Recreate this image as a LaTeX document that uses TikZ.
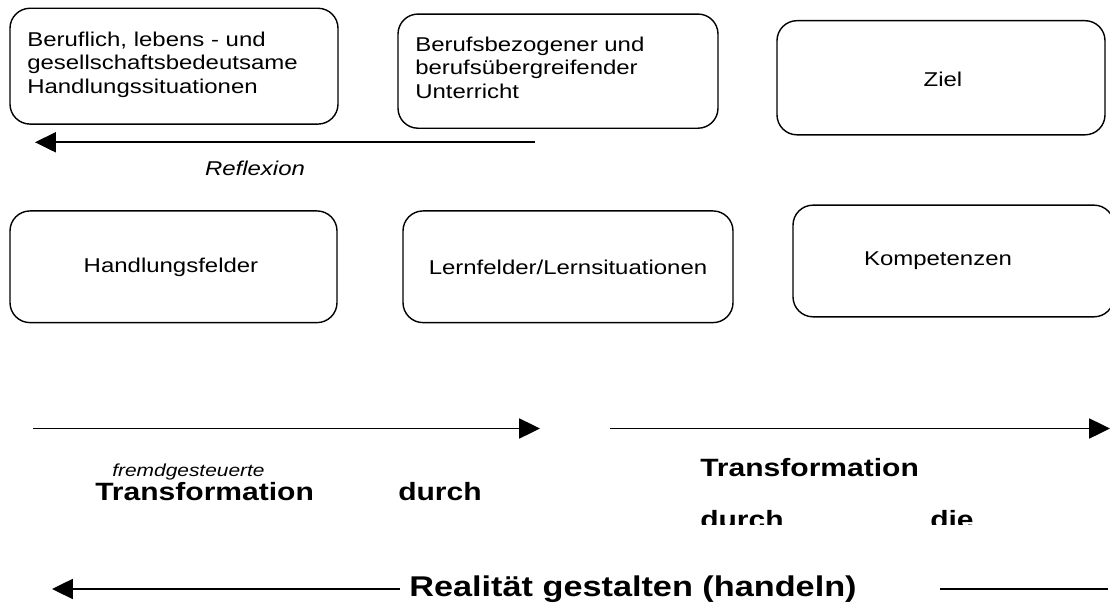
\documentclass[tikz,border=0pt]{standalone}
\usepackage{fontspec}
\setmainfont{Liberation Sans}[FakeStretch=1.2]
\usetikzlibrary{arrows.meta,fit}

\begin{document}
\begin{tikzpicture}[x=0.025cm, y=-0.02068cm,
    box/.style={draw, line width=1pt, rounded corners=0.5cm, inner sep=0pt},
    txt/.style={inner sep=0pt, font=\fontsize{14.2pt}{16.8pt}\selectfont},
    gross/.style={inner sep=0pt, font=\fontsize{17.8pt}{20pt}\selectfont\bfseries},
    pfeil/.style={line width=1.2pt, -{Triangle[length=0.52cm, width=0.5cm]}}]
  \useasboundingbox (0,0) rectangle (1110,740);

  % 枠を描く
  \node[box, fit={(10,10) (338,150)}] (A) {};
  \node[box, fit={(398,17) (718,155)}] (B) {};
  \node[box, fit={(777,25) (1105,163)}] (C) {};
  \node[box, fit={(10,255) (337,390)}] (D) {};
  \node[box, fit={(403,255) (733,390)}] (E) {};
  \node[box, fit={(793,248) (1114,383)}] (F) {};

  % 文字を入れる
  \node[txt, anchor=north west, align=left] (A1) at (27,38)
    {Beruflich, lebens - und\\gesellschaftsbedeutsame\\Handlungssituationen};
  \node[txt, anchor=north west, align=left] (B1) at (415,44)
    {Berufsbezogener und\\berufsübergreifender\\Unterricht};
  \node[txt] (C1) at (943,96) {Ziel};
  \node[txt] (D1) at (171,323) {Handlungsfelder};
  \node[txt] (E1) at (568,323) {Lernfelder/Lernsituationen};
  \node[txt] (F1) at (938,315) {Kompetenzen};
  \node[txt, font=\fontsize{14.2pt}{16.8pt}\selectfont\itshape] (refl) at (255,203) {Reflexion};

  % 矢印を引く
  \coordinate (r1) at (535,172);
  \coordinate (r2) at (35,172);
  \draw[pfeil] (r1) -- (r2);

  \coordinate (p1) at (33,518);
  \coordinate (p2) at (540,518);
  \coordinate (p3) at (610,518);
  \coordinate (p4) at (1110,518);
  \draw[pfeil] (p1) -- (p2);
  \draw[pfeil] (p3) -- (p4);

  % 下の文字
  \node[inner sep=0pt, anchor=west, font=\fontsize{12.4pt}{14pt}\selectfont\itshape] (fg) at (112,570) {fremdgesteuerte};
  \node[gross, anchor=west] (T1) at (95,594) {Transformation};
  \node[gross, anchor=west] (T2) at (398,594) {durch};
  \node[gross, anchor=west] (T3) at (700,565) {Transformation};
  \begin{scope}
    \clip (650,540) rectangle (1110,634);
    \node[gross, anchor=west] (T4) at (700,628) {durch};
    \node[gross, anchor=west] (T5) at (930,628) {die};
  \end{scope}

  \node[gross, font=\fontsize{20.3pt}{22pt}\selectfont\bfseries] (R) at (633,712) {Realität gestalten (handeln)};
  \coordinate (q1) at (400,712);
  \coordinate (q2) at (52,712);
  \coordinate (q3) at (940,712);
  \coordinate (q4) at (1108,712);
  \draw[pfeil] (q1) -- (q2);
  \draw[line width=1.2pt] (q3) -- (q4);
\end{tikzpicture}
\end{document}
